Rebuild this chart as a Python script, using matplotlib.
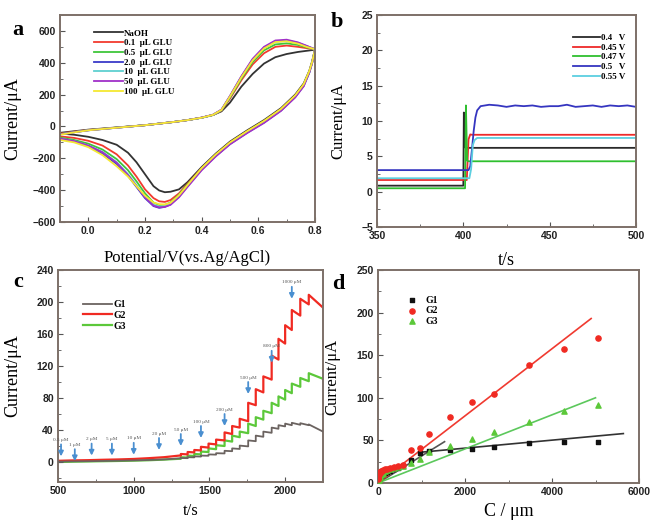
import matplotlib
matplotlib.use("Agg")
import matplotlib.pyplot as plt
from matplotlib.ticker import MultipleLocator

# ---------------- Panel a data (cyclic voltammetry) ----------------
cv_labels = ["NaOH", "0.1  μL GLU", "0.5  μL GLU", "2.0  μL GLU", "10  μL GLU", "50  μL GLU", "100  μL GLU"]
cv_colors = ["#333333", "#f23a2e", "#3fc63a", "#3a3ac8", "#5fd0d0", "#a030c8", "#f5e832"]
pot_fwd = [-0.1, -0.05, 0.0, 0.1, 0.2, 0.3, 0.35, 0.4, 0.44, 0.47, 0.5, 0.54, 0.58, 0.62, 0.66, 0.7, 0.74, 0.77, 0.8]
pot_rev = [0.8, 0.79, 0.78, 0.76, 0.73, 0.68, 0.62, 0.56, 0.5, 0.45, 0.4, 0.35, 0.32, 0.29, 0.27, 0.25, 0.23,
           0.2, 0.17, 0.14, 0.1, 0.05, 0.0, -0.05, -0.1]
cur_fwd = [
    [-40, -30, -20, -6, 8, 28, 40, 55, 72, 95, 150, 250, 330, 395, 435, 455, 468, 475, 482],
    [-45, -33, -22, -7, 8, 28, 40, 55, 72, 100, 175, 290, 390, 460, 500, 508, 500, 492, 485],
    [-48, -35, -23, -7, 8, 28, 40, 55, 72, 102, 182, 300, 405, 478, 515, 522, 512, 497, 485],
    [-50, -36, -24, -8, 8, 28, 40, 55, 73, 105, 190, 312, 420, 495, 535, 540, 525, 505, 485],
    [-50, -36, -24, -8, 8, 28, 40, 55, 73, 104, 188, 310, 418, 492, 532, 537, 522, 503, 485],
    [-50, -36, -24, -8, 8, 28, 40, 56, 74, 106, 192, 315, 425, 500, 540, 545, 528, 507, 485],
    [-52, -37, -24, -8, 8, 28, 40, 55, 73, 104, 188, 308, 415, 490, 530, 535, 520, 500, 485],
]
cur_rev = [
    [482, 410, 350, 270, 200, 115, 40, -25, -95, -170, -255, -350, -395, -410, -413, -402, -375, -300, -225, -165, -115, -85, -65, -52, -44],
    [485, 405, 345, 262, 192, 108, 32, -32, -102, -178, -262, -360, -420, -462, -474, -470, -450, -395, -315, -245, -175, -120, -90, -72, -62],
    [485, 403, 343, 260, 190, 105, 30, -35, -105, -180, -265, -365, -428, -478, -492, -493, -478, -420, -345, -275, -205, -145, -108, -85, -70],
    [485, 400, 340, 255, 185, 100, 25, -40, -110, -185, -270, -375, -440, -490, -505, -511, -500, -450, -380, -310, -235, -170, -125, -95, -78],
    [485, 401, 341, 257, 187, 102, 27, -38, -108, -183, -268, -372, -436, -486, -500, -503, -492, -440, -370, -300, -225, -160, -120, -92, -76],
    [485, 398, 338, 252, 182, 98, 22, -42, -112, -188, -275, -380, -445, -492, -505, -508, -497, -445, -375, -305, -228, -162, -120, -92, -76],
    [485, 405, 348, 265, 195, 110, 35, -30, -100, -175, -262, -368, -432, -480, -490, -488, -478, -435, -375, -315, -250, -180, -130, -100, -85],
]

# ---------------- Panel b data (chronoamperometry at potentials) ----------------
b_labels = ["0.4   V", "0.45 V", "0.47 V", "0.5   V", "0.55 V"]
b_colors = ["#2a2a2a", "#ee2a2a", "#2fbf2f", "#3535c0", "#5ccfe0"]
b_t = [
    [350, 400, 400.3, 400.8, 401.5, 500],
    [350, 402, 403, 404, 405, 500],
    [350, 401, 401.5, 402.2, 403, 500],
    [350, 403, 404, 405, 406, 407, 408, 410, 415, 420, 425, 430, 435, 440, 445, 450, 455, 460, 465, 470, 475, 480, 485, 490, 495, 500],
    [350, 403.5, 404.5, 405.5, 406.5, 408, 500],
]
b_i = [
    [0.85, 0.85, 11.2, 6.3, 6.2, 6.2],
    [1.65, 1.65, 7.4, 8.1, 8.05, 8.05],
    [0.48, 0.48, 12.2, 4.4, 4.3, 4.3],
    [3.05, 3.05, 3.6, 6.0, 8.6, 10.5, 11.5, 12.1, 12.3, 12.2, 12.0, 12.2, 12.1, 12.2, 12.0, 12.1, 12.1, 12.3, 12.0, 12.1, 12.2, 12.0, 12.2, 12.1, 12.2, 12.0],
    [1.9, 1.9, 3.2, 6.6, 7.3, 7.6, 7.6],
]

# ---------------- Panel c data (step amperometry) ----------------
c_labels = ["G1", "G2", "G3"]
c_colors = ["#6b6360", "#f02a22", "#5cc83a"]
base_t = [500, 600, 700, 800, 900, 1000, 1100, 1200, 1300]
base_i = [
    [0.5, 0.8, 1.0, 1.3, 1.6, 2.0, 2.5, 3.2, 4.5],
    [1.5, 2.0, 2.3, 2.8, 3.2, 3.8, 4.8, 6.0, 8.0],
    [0.0, 0.4, 0.7, 1.0, 1.3, 1.7, 2.2, 3.0, 4.0],
]
step_t = [1311, 1356, 1400, 1444, 1494, 1544, 1600, 1650, 1700, 1756, 1806, 1856, 1911, 1956, 2000, 2044, 2100, 2156]
end_t = 2250
step_peak = [
    [5, 6, 7, 8, 9.5, 11, 14, 17, 20.5, 27, 33, 38, 43, 46, 48, 49, 48.5, 47],
    [10, 12.5, 15, 19, 23, 28, 37, 45, 54, 74, 91, 107, 133, 154, 171, 190, 204, 209],
    [6, 8, 10, 13, 17, 21, 27, 33, 38, 48, 56, 64, 74, 82, 90, 98, 105, 111],
]
step_end = [
    [4.8, 5.8, 6.8, 7.8, 9.2, 10.7, 13.5, 16.3, 19.5, 26, 31.5, 36.5, 41.5, 44.5, 46, 46.5, 46, 38],
    [9.5, 12, 14.5, 18, 22, 27, 35, 43, 51, 71, 87, 103, 128, 148, 165, 183, 197, 193],
    [5.5, 7.5, 9.5, 12.5, 16, 20, 25.5, 31, 36, 45, 53, 61, 70, 78, 86, 94, 101, 104],
]
arrow_t = [520, 611, 722, 856, 1000, 1167, 1311, 1444, 1600, 1756, 1911, 2044]
arrow_lbl = ["0.5 μM", "1 μM", "2 μM", "5 μM", "10 μM", "20 μM", "50 μM", "100 μM", "200 μM", "500 μM", "800 μM", "1000 μM"]
arrow_y = [25, 19, 26, 26, 27, 33, 38, 48, 63, 103, 142, 222]

# ---------------- Panel d data (calibration) ----------------
conc = [0.5, 1, 1.5, 2.5, 3.5, 4.5, 6.5, 8.5, 10.5, 15.5, 20.5, 25.5, 35.5, 45.5, 55.5, 75.5, 95.5, 115.5,
        165.5, 215.5, 265.5, 365.5, 465.5, 565.5, 765.5, 965.5, 1165.5, 1665.5, 2165.5, 2665.5, 3465.5, 4265.5, 5065.5]
d_g1 = [1, 1.2, 1.5, 2, 2.2, 2.5, 3, 3.3, 3.6, 4.2, 4.8, 5.5, 6, 7, 7.5, 8.5, 9.5, 10.5,
        12, 13, 14, 16, 18, 20, 27, 35, 37, 39, 40, 42, 46.5, 48.5, 48.5]
d_g2 = [5, 5.5, 6, 6.5, 7, 7.5, 8, 8.5, 9, 10, 10.5, 11, 12, 12.5, 13, 14, 14.5, 15,
        16, 17, 17.5, 18.5, 19.5, 21, 38.7, 40.7, 57.7, 78, 95, 104, 138.6, 157, 170]
d_g3 = [0.5, 0.8, 1, 1.5, 2, 2.3, 2.8, 3.2, 3.6, 4.5, 5, 5.8, 7, 8, 9, 10, 11, 12,
        13.5, 15, 16, 17.5, 18.5, 20, 23, 28, 36, 43, 52, 60, 72, 85, 92]
# fitted lines: (C start, C end, slope, intercept)
fit_g1a = (0, 1530, 0.0317, 0.0)
fit_g1b = (950, 5640, 0.0047, 31.5)
fit_g2 = (0, 4900, 0.0394, 0.0)
fit_g3 = (0, 5000, 0.0200, 0.0)

# ---------------- styling helpers ----------------
SERIF = "Liberation Serif"
SANS = "Liberation Sans"
SPINE = "#7d7068"
W, H = 651, 520
fig = plt.figure(figsize=(W / 100, H / 100), dpi=100)


def mk_axes(l, t, r, b):
    return fig.add_axes([l / W, 1 - b / H, (r - l) / W, (b - t) / H])


def style(ax):
    for s in ax.spines.values():
        s.set_color(SPINE)
        s.set_linewidth(1.4)
    ax.tick_params(which="both", direction="in", top=False, right=False, color="#555555")
    ax.tick_params(which="major", length=3.5, width=0.8, pad=3)
    ax.tick_params(which="minor", length=2, width=0.6)
    for lab in ax.get_xticklabels() + ax.get_yticklabels():
        lab.set_fontfamily(SANS)
        lab.set_fontweight("bold")
        lab.set_fontsize(7.5)
        lab.set_color("#222222")


# ---------------- Panel a ----------------
ax = mk_axes(60, 15, 315, 222)
for i in range(len(cv_labels)):
    ax.plot(pot_fwd + pot_rev, cur_fwd[i] + cur_rev[i], color=cv_colors[i], lw=1.3, label=cv_labels[i])
ax.set_xlim(-0.1, 0.8)
ax.set_ylim(-600, 700)
ax.xaxis.set_major_locator(MultipleLocator(0.2))
ax.xaxis.set_minor_locator(MultipleLocator(0.1))
ax.yaxis.set_major_locator(MultipleLocator(200))
ax.yaxis.set_minor_locator(MultipleLocator(100))
ax.set_xticks([0.0, 0.2, 0.4, 0.6, 0.8])
ax.set_xticklabels(["0.0", "0.2", "0.4", "0.6", "0.8"])
ax.set_yticks([-600, -400, -200, 0, 200, 400, 600])
style(ax)
ax.set_xlabel("Potential/V(vs.Ag/AgCl)", family=SERIF, fontsize=12)
ax.set_ylabel("Current/μA", family=SERIF, fontsize=13)
ax.xaxis.set_label_coords(0.5, -0.135)
ax.yaxis.set_label_coords(-0.15, 0.5)
leg = ax.legend(loc="upper left", bbox_to_anchor=(0.1, 0.97), frameon=False, handlelength=3.2,
                handletextpad=0.2, labelspacing=0.15, prop={"family": SERIF, "weight": "bold", "size": 6.5})
fig.text(18 / W, 1 - 30 / H, "a", family=SERIF, fontsize=16, fontweight="bold", ha="center", va="center")

# ---------------- Panel b ----------------
ax = mk_axes(377, 15, 636, 227)
for i in range(len(b_labels)):
    ax.plot(b_t[i], b_i[i], color=b_colors[i], lw=1.3, label=b_labels[i])
ax.set_xlim(350, 500)
ax.set_ylim(-5, 25)
ax.xaxis.set_major_locator(MultipleLocator(50))
ax.xaxis.set_minor_locator(MultipleLocator(25))
ax.yaxis.set_major_locator(MultipleLocator(5))
ax.yaxis.set_minor_locator(MultipleLocator(2.5))
style(ax)
ax.set_xlabel("t/s", family=SERIF, fontsize=13)
ax.set_ylabel("Current/μA", family=SERIF, fontsize=12)
ax.xaxis.set_label_coords(0.5, -0.12)
ax.yaxis.set_label_coords(-0.12, 0.5)
ax.legend(loc="upper right", bbox_to_anchor=(0.99, 0.95), frameon=False, handlelength=3.0,
          handletextpad=0.1, labelspacing=0.15, prop={"family": SERIF, "weight": "bold", "size": 6.5})
fig.text(337 / W, 1 - 22 / H, "b", family=SERIF, fontsize=16, fontweight="bold", ha="center", va="center")

# ---------------- Panel c ----------------
ax = mk_axes(58, 270, 323, 482)
for k in range(3):
    ts = list(base_t)
    vs = list(base_i[k])
    for j, t0 in enumerate(step_t):
        t1 = step_t[j + 1] if j + 1 < len(step_t) else end_t
        ts += [t0, t0, t1]
        vs += [vs[-1], step_peak[k][j], step_end[k][j]]
    ax.plot(ts, vs, color=c_colors[k], lw=1.3 if k == 0 else 1.6, label=c_labels[k], zorder=3 - k if k else 3)
for t0, lbl, y0 in zip(arrow_t, arrow_lbl, arrow_y):
    ax.annotate("", xy=(t0, y0 - 18), xytext=(t0, y0 - 3),
                arrowprops=dict(arrowstyle="-|>", color="#4a8fd0", lw=1.3, mutation_scale=7,
                                shrinkA=0, shrinkB=0))
    ax.text(t0, y0, lbl, family=SERIF, fontsize=3.8, color="#555555", ha="center", va="bottom")
ax.set_xlim(500, 2250)
ax.set_ylim(-25, 240)
ax.xaxis.set_major_locator(MultipleLocator(500))
ax.xaxis.set_minor_locator(MultipleLocator(250))
ax.yaxis.set_major_locator(MultipleLocator(40))
ax.yaxis.set_minor_locator(MultipleLocator(20))
style(ax)
ax.set_xlabel("t/s", family=SERIF, fontsize=12)
ax.set_ylabel("Current/μA", family=SERIF, fontsize=13)
ax.xaxis.set_label_coords(0.5, -0.1)
ax.yaxis.set_label_coords(-0.14, 0.5)
ax.legend(loc="upper left", bbox_to_anchor=(0.06, 0.9), frameon=False, handlelength=3.0,
          handletextpad=0.2, labelspacing=0.2, prop={"family": SERIF, "weight": "bold", "size": 7})
fig.text(18 / W, 1 - 282 / H, "c", family=SERIF, fontsize=16, fontweight="bold", ha="center", va="center")

# ---------------- Panel d ----------------
ax = mk_axes(378, 270, 639, 483)
for (c0, c1, m, b0), col in [(fit_g1a, "#555555"), (fit_g1b, "#333333"), (fit_g2, "#f03a30"), (fit_g3, "#5cc85c")]:
    ax.plot([c0, c1], [m * c0 + b0, m * c1 + b0], color=col, lw=1.2, zorder=2)
ax.scatter(conc, d_g1, marker="s", s=12, color="#111111", label="G1", zorder=3)
ax.scatter(conc, d_g2, marker="o", s=14, color="#f02a22", label="G2", zorder=4)
ax.scatter(conc, d_g3, marker="^", s=14, color="#5cc83a", label="G3", zorder=3)
ax.set_xlim(0, 6000)
ax.set_ylim(0, 250)
ax.xaxis.set_major_locator(MultipleLocator(2000))
ax.xaxis.set_minor_locator(MultipleLocator(1000))
ax.yaxis.set_major_locator(MultipleLocator(50))
ax.yaxis.set_minor_locator(MultipleLocator(25))
style(ax)
ax.set_xlabel("C / μm", family=SERIF, fontsize=13)
ax.set_ylabel("Current/μA", family=SERIF, fontsize=12)
ax.xaxis.set_label_coords(0.5, -0.095)
ax.yaxis.set_label_coords(-0.145, 0.5)
ax.legend(loc="upper left", bbox_to_anchor=(0.08, 0.92), frameon=False, handlelength=1.0,
          handletextpad=0.8, labelspacing=0.15, prop={"family": SERIF, "weight": "bold", "size": 7})
fig.text(338 / W, 1 - 284 / H, "d", family=SERIF, fontsize=16, fontweight="bold", ha="center", va="center")

fig.savefig("out.png", dpi=100)
